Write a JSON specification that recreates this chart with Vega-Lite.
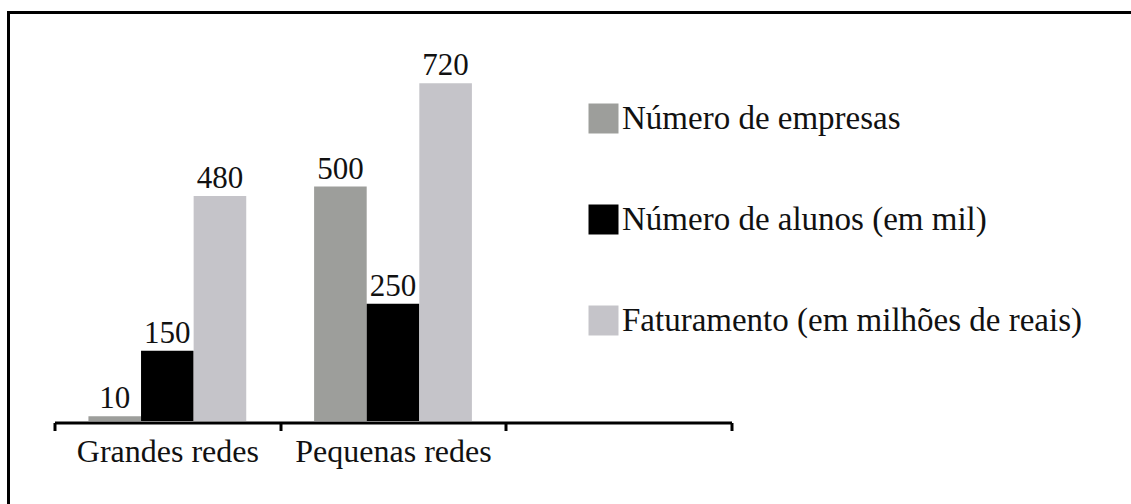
{
  "$schema": "https://vega.github.io/schema/vega-lite/v6.json",
  "autosize": {"type": "none"},
  "padding": {"left": 8.5, "top": 12.5, "right": 0, "bottom": 0},
  "width": 1126,
  "height": 495,
  "background": "#ffffff",
  "config": {
    "view": {"stroke": "#000000", "strokeWidth": 3},
    "font": "Liberation Serif"
  },
  "data": {
    "values": [
      {"rede": "Grandes redes", "serie": "Número de empresas", "valor": 10},
      {"rede": "Grandes redes", "serie": "Número de alunos (em mil)", "valor": 150},
      {"rede": "Grandes redes", "serie": "Faturamento (em milhões de reais)", "valor": 480},
      {"rede": "Pequenas redes", "serie": "Número de empresas", "valor": 500},
      {"rede": "Pequenas redes", "serie": "Número de alunos (em mil)", "valor": 250},
      {"rede": "Pequenas redes", "serie": "Faturamento (em milhões de reais)", "valor": 720}
    ]
  },
  "encoding": {
    "x": {
      "field": "rede",
      "type": "nominal",
      "scale": {"domain": ["Grandes redes", "Pequenas redes", ""], "range": [46, 723], "paddingInner": 0, "paddingOuter": 0},
      "axis": {
        "title": null,
        "labelAngle": 0,
        "offset": -85,
        "domainColor": "#000000",
        "domainWidth": 3,
        "tickColor": "#000000",
        "tickWidth": 3,
        "tickSize": 8,
        "tickBand": "extent",
        "labelFont": "Liberation Serif",
        "labelFontSize": 32,
        "labelColor": "#111111",
        "labelPadding": 6,
        "labelLimit": 400,
        "grid": false
      }
    },
    "xOffset": {
      "field": "serie",
      "type": "nominal",
      "sort": ["Número de empresas", "Número de alunos (em mil)", "Faturamento (em milhões de reais)"],
      "scale": {"paddingOuter": 0.645, "paddingInner": 0}
    },
    "y": {
      "field": "valor",
      "type": "quantitative",
      "scale": {"domain": [-184.4, 871], "nice": false, "zero": false},
      "axis": null
    }
  },
  "layer": [
    {
      "mark": {"type": "bar"},
      "encoding": {
        "y2": {"datum": 0},
        "color": {
          "field": "serie",
          "type": "nominal",
          "sort": ["Número de empresas", "Número de alunos (em mil)", "Faturamento (em milhões de reais)"],
          "scale": {
            "domain": ["Número de empresas", "Número de alunos (em mil)", "Faturamento (em milhões de reais)"],
            "range": ["#9d9e9b", "#000000", "#c5c4c9"]
          },
          "legend": {
            "title": null,
            "orient": "none",
            "legendX": 578.5,
            "legendY": 89.5,
            "padding": 0,
            "symbolType": "square",
            "symbolSize": 900,
            "symbolStrokeWidth": 0,
            "symbolOpacity": 1,
            "labelFont": "Liberation Serif",
            "labelFontSize": 33,
            "labelColor": "#111111",
            "labelOffset": 2,
            "labelLimit": 600,
            "rowPadding": 67
          }
        }
      }
    },
    {
      "mark": {"type": "text", "baseline": "alphabetic", "dy": -8, "font": "Liberation Serif", "fontSize": 31, "color": "#111111"},
      "encoding": {
        "text": {"field": "valor", "type": "quantitative"}
      }
    }
  ]
}
